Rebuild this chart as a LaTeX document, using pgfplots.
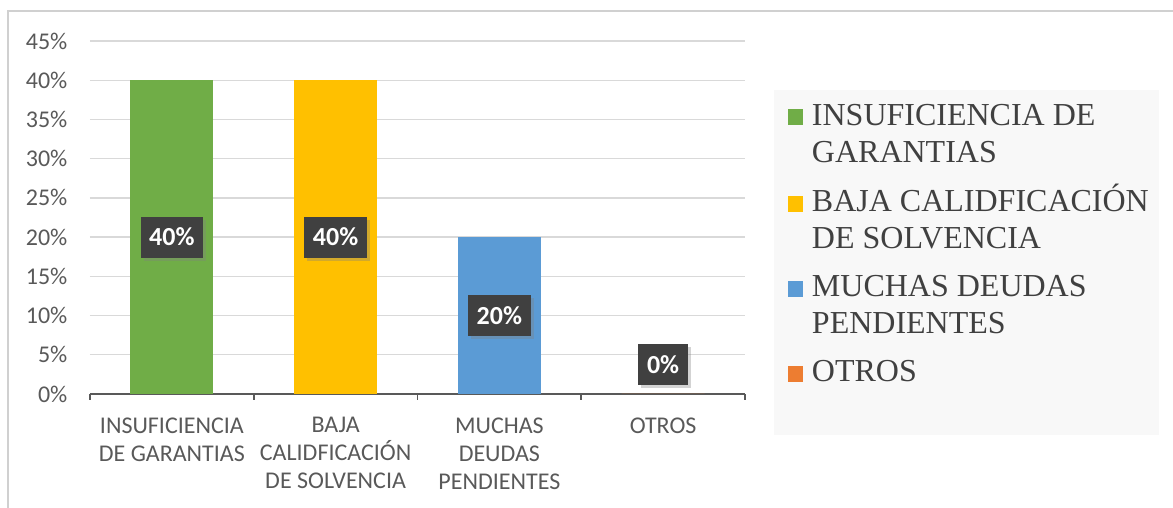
\documentclass[border=0pt]{standalone}
\usepackage{fontspec}
\setmainfont{Carlito}
\newfontfamily\legendfont{Liberation Serif}
\usepackage{pgfplots}
\pgfplotsset{compat=1.18}
\usetikzlibrary{shadows}

\definecolor{cGreen}{HTML}{70AD47}
\definecolor{cYellow}{HTML}{FFC000}
\definecolor{cBlue}{HTML}{5B9BD5}
\definecolor{cOrange}{HTML}{ED7D31}
\definecolor{gridgray}{HTML}{D9D9D9}
\definecolor{framegray}{HTML}{D0D0D0}
\definecolor{labbox}{HTML}{404040}
\definecolor{ticktext}{HTML}{595959}
\definecolor{legtext}{HTML}{404040}
\definecolor{legbg}{HTML}{F8F8F8}

% the invisible path gives each legend row the depth of a two-line entry
\pgfplotsset{
  mybar/.style={ybar, bar width=41.5pt, bar shift=0pt, draw=none, fill=#1,
    legend image code/.code={\fill[fill=#1] (0pt,0pt) rectangle (7.5pt,8pt);
      \path[draw=none, fill=none] (0pt,-24pt) rectangle (0pt,0pt);}},
}

\begin{document}
\begin{tikzpicture}
% frame and legend background (1px = 0.5pt, axis origin at (0,0))
\useasboundingbox (-45pt,-57pt) rectangle (541.5pt,197pt);
\draw[framegray, line width=0.8pt] (-41pt,-60pt) -- (-41pt,191.5pt) -- (545pt,191.5pt);
\fill[legbg] (342pt,152pt) rectangle (534.5pt,-20.5pt);

\begin{axis}[
    at={(0,0)}, anchor=south west,
    scale only axis,
    width=327.5pt, height=176.5pt,
    xmin=-0.5, xmax=3.5,
    ymin=0, ymax=45,
    ytick={0,5,...,45},
    yticklabel={\pgfmathprintnumber{\tick}\%},
    /pgf/number format/assume math mode=true,
    xtick={0,1,2,3},
    xticklabels={{INSUFICIENCIA\\DE GARANTIAS},{BAJA\\CALIDFICACIÓN\\DE SOLVENCIA},{MUCHAS\\DEUDAS\\PENDIENTES},{OTROS}},
    minor xtick={-0.5,0.5,1.5,2.5,3.5},
    major x tick style={draw=none},
    ytick style={draw=none},
    minor tick length=3pt,
    tick align=outside,
    minor x tick style={ticktext, line width=0.9pt},
    axis x line*=bottom,
    axis y line*=left,
    x axis line style={ticktext, line width=0.9pt, -},
    y axis line style={draw=none},
    ymajorgrids,
    grid style={gridgray, line width=0.7pt},
    tick label style={text=ticktext, font=\fontsize{12}{14}\selectfont},
    xticklabel style={align=center, anchor=north, yshift=-4pt},
    yticklabel style={xshift=-3.5pt},
    legend cell align=left,
    legend style={anchor=north west, at={(1.0656,0.8354)}, draw=none, fill=none,
      inner sep=0pt, row sep=5.5pt, column sep=4.3pt,
      cells={anchor=base west},
      nodes={inner sep=0pt, text=legtext, font=\legendfont\fontsize{16}{18.5}\selectfont}},
    clip=false,
]
\addplot[mybar=cGreen] coordinates {(0,40)};
\addlegendentry{\parbox[t]{180pt}{\strut INSUFICIENCIA DE\\GARANTIAS\strut}}
\addplot[mybar=cYellow] coordinates {(1,40)};
\addlegendentry{\parbox[t]{180pt}{\strut BAJA CALIDFICACIÓN\\DE SOLVENCIA\strut}}
\addplot[mybar=cBlue] coordinates {(2,20)};
\addlegendentry{\parbox[t]{180pt}{\strut MUCHAS DEUDAS\\PENDIENTES\strut}}
\addplot[mybar=cOrange] coordinates {(3,0)};
\addlegendentry{\parbox[t]{180pt}{\strut OTROS\strut}}

% data labels (value shown, placed at label position)
\addplot[forget plot, draw=none, mark=none, point meta=explicit,
  nodes near coords={\pgfmathprintnumber{\pgfplotspointmeta}\%},
  nodes near coords style={anchor=center, fill=labbox, text=white,
    font=\bfseries\fontsize{13}{15}\selectfont, minimum height=20.5pt, inner xsep=4.3pt,
    drop shadow={shadow xshift=1.5pt, shadow yshift=-1.5pt, opacity=0.35}}]
  table[meta=val] {
x y val
0 20 40
1 20 40
2 10 20
3 3.7 0
};
\end{axis}
\end{tikzpicture}
\end{document}
